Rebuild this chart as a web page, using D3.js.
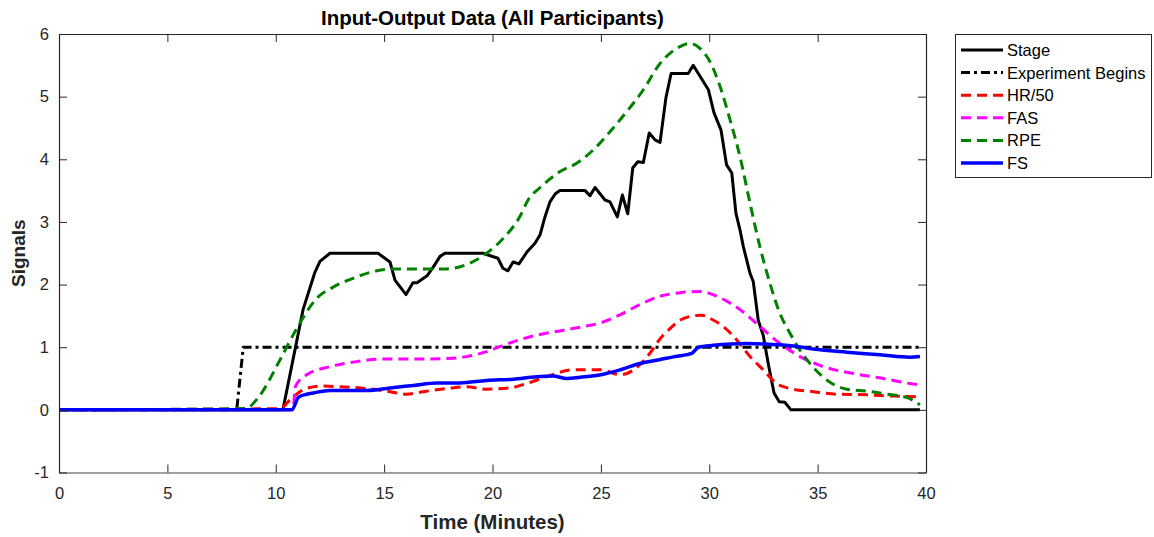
<!DOCTYPE html>
<html>
<head>
<meta charset="utf-8">
<script src="https://cdn.jsdelivr.net/npm/d3@7"></script>
<style>
  html, body { margin: 0; padding: 0; background: #fff; }
  svg { display: block; font-family: "Liberation Sans", Arial, Helvetica, sans-serif; }
</style>
</head>
<body>
<svg id="chart" width="1154" height="537"></svg>
<script>
// Time axis (minutes) and signal values for each series
const stageT = [0, 10.33, 11.26, 11.81, 12.04, 12.5, 14.72, 15.27, 15.5, 16.01, 16.33, 16.52, 16.98, 17.25, 17.58, 17.81,
  19.56, 20.25, 20.48, 20.71, 20.95, 21.22, 21.59, 21.96, 22.19, 22.42, 22.65, 22.9, 23.11, 24.27, 24.5, 24.73, 25.19,
  25.42, 25.76, 25.99, 26.24, 26.47, 26.7, 26.96, 27.23, 27.5, 27.73, 28.0, 28.24, 29.03, 29.26, 29.96, 30.22, 30.54,
  30.8, 31.04, 31.23, 31.42, 31.57, 31.88, 32.03, 32.26, 32.49, 32.72, 32.99, 33.23, 33.49, 33.77, 39.72];
const stageV = [0, 0, 1.6, 2.2, 2.37, 2.5, 2.5, 2.36, 2.07, 1.84, 2.03, 2.03, 2.14, 2.27, 2.45, 2.5,
  2.5, 2.42, 2.26, 2.22, 2.36, 2.33, 2.52, 2.66, 2.79, 3.08, 3.32, 3.45, 3.5, 3.5, 3.42, 3.55, 3.35,
  3.32, 3.08, 3.43, 3.13, 3.86, 3.96, 3.95, 4.42, 4.31, 4.27, 4.98, 5.37, 5.37, 5.5, 5.11, 4.74, 4.47,
  3.91, 3.78, 3.14, 2.87, 2.61, 2.18, 2.05, 1.43, 1.19, 0.74, 0.27, 0.13, 0.12, 0, 0];

const beginT = [0, 8.2, 8.5, 39.72];
const beginV = [0, 0, 1, 1];

const hrT = [0, 10.2, 10.66, 11.27, 12.04, 12.96, 14.2, 15.27, 16.04, 16.8, 17.9, 18.8, 19.73, 20.8, 21.58, 22.5,
  23.73, 25.0, 25.9, 26.8, 27.3, 27.7, 28.2, 28.65, 29.1, 29.65, 30.2, 30.65, 31.26, 31.88, 32.49, 33.1, 33.73,
  34.8, 35.88, 37.26, 38.5, 39.72];
const hrV = [0, 0.02, 0.16, 0.32, 0.38, 0.37, 0.34, 0.29, 0.25, 0.29, 0.34, 0.37, 0.33, 0.35, 0.42, 0.53,
  0.64, 0.64, 0.56, 0.72, 0.92, 1.12, 1.3, 1.43, 1.49, 1.51, 1.43, 1.33, 1.12, 0.85, 0.64, 0.42, 0.34,
  0.29, 0.25, 0.24, 0.22, 0.21];

const fasT = [0, 10.8, 10.9, 11.43, 12.5, 13.73, 14.8, 16.35, 17.9, 18.8, 19.73, 20.65, 21.88, 23.1, 24.04, 25.0,
  25.9, 26.8, 27.7, 28.65, 29.57, 30.5, 31.42, 32.34, 33.26, 34.19, 35.26, 36.65, 38.2, 39.26, 39.72];
const fasV = [0, 0, 0.37, 0.56, 0.69, 0.77, 0.81, 0.81, 0.82, 0.85, 0.93, 1.05, 1.18, 1.26, 1.32, 1.39,
  1.52, 1.68, 1.81, 1.87, 1.89, 1.79, 1.6, 1.33, 1.06, 0.85, 0.69, 0.58, 0.49, 0.42, 0.4];

const rpeT = [0, 8.6, 9.2, 10.2, 10.97, 11.89, 12.65, 13.56, 14.66, 15.58, 16.8, 17.9, 18.8, 19.73, 20.5, 21.27,
  21.64, 22.2, 23.1, 23.9, 24.65, 25.42, 26.19, 26.96, 27.73, 28.5, 29.1, 29.57, 30.03, 30.5, 30.96, 31.42,
  31.88, 32.34, 32.8, 33.26, 33.73, 34.19, 34.8, 35.57, 36.34, 37.26, 38.2, 39.1, 39.72];
const rpeV = [0, 0.02, 0.2, 0.8, 1.3, 1.78, 1.96, 2.1, 2.22, 2.25, 2.25, 2.25, 2.32, 2.5, 2.74, 3.09,
  3.35, 3.55, 3.8, 3.94, 4.15, 4.44, 4.76, 5.11, 5.53, 5.77, 5.85, 5.77, 5.56, 5.16, 4.63, 4.04,
  3.3, 2.6, 2.02, 1.54, 1.22, 0.95, 0.68, 0.44, 0.33, 0.3, 0.25, 0.2, 0.08];

const fsT = [0, 10.75, 11.04, 11.43, 11.73, 12.5, 14.2, 15.27, 16.35, 17.43, 18.5, 19.73, 20.96, 22.04, 22.8, 23.42,
  24.04, 25.0, 25.9, 26.8, 27.7, 28.4, 29.19, 29.5, 30.19, 31.72, 32.65, 33.88, 34.8, 36.34, 37.88, 39.26, 39.72];
const fsV = [0, 0, 0.2, 0.25, 0.27, 0.31, 0.31, 0.35, 0.39, 0.43, 0.43, 0.47, 0.49, 0.53, 0.54, 0.5,
  0.52, 0.56, 0.64, 0.74, 0.8, 0.85, 0.9, 1.0, 1.03, 1.06, 1.05, 1.02, 0.97, 0.92, 0.88, 0.84, 0.85];

const seriesNames = ["Stage", "Experiment Begins", "HR/50", "FAS", "RPE", "FS"];
const xTicks = [0, 5, 10, 15, 20, 25, 30, 35, 40];
const yTicks = [-1, 0, 1, 2, 3, 4, 5, 6];

const series = [
  { name: seriesNames[0], t: stageT, v: stageV, color: "#000000", width: 3, dash: null, curve: d3.curveLinear },
  { name: seriesNames[1], t: beginT, v: beginV, color: "#000000", width: 3, dash: "9,4,3,4", curve: d3.curveLinear },
  { name: seriesNames[2], t: hrT, v: hrV, color: "#ff0000", width: 3, dash: "10,6", curve: d3.curveMonotoneX },
  { name: seriesNames[3], t: fasT, v: fasV, color: "#ff00ff", width: 3, dash: "10,6", curve: d3.curveMonotoneX },
  { name: seriesNames[4], t: rpeT, v: rpeV, color: "#008000", width: 3, dash: "10,6", curve: d3.curveMonotoneX },
  { name: seriesNames[5], t: fsT, v: fsV, color: "#0000ff", width: 3.5, dash: null, curve: d3.curveMonotoneX }
];

const svg = d3.select("#chart");
const plot = { left: 59, right: 926, top: 34, bottom: 472.5 };

const x = d3.scaleLinear().domain([0, 40]).range([plot.left, plot.right]);
const y = d3.scaleLinear().domain([-1, 6]).range([plot.bottom, plot.top]);

const axisColor = "#262626";
const tickLen = 8;

// Clip region for the data lines
svg.append("defs").append("clipPath").attr("id", "plot-clip")
  .append("rect")
  .attr("x", plot.left).attr("y", plot.top)
  .attr("width", plot.right - plot.left).attr("height", plot.bottom - plot.top);

// Data lines
const lines = svg.append("g").attr("clip-path", "url(#plot-clip)");
series.forEach(s => {
  const pts = s.t.map((t, i) => [t, s.v[i]]);
  const gen = d3.line().x(d => x(d[0])).y(d => y(d[1])).curve(s.curve);
  lines.append("path")
    .attr("d", gen(pts))
    .attr("fill", "none")
    .attr("stroke", s.color)
    .attr("stroke-width", s.width)
    .attr("stroke-linejoin", "round")
    .attr("stroke-dasharray", s.dash);
});

// Axes with inward ticks on all four sides (boxed axes); plain hyphen for negatives
const fmt = d => String(d);
const bottomAxis = d3.axisBottom(x).tickValues(xTicks).tickSizeInner(-tickLen).tickSizeOuter(0).tickPadding(15).tickFormat(fmt);
const topAxis = d3.axisTop(x).tickValues(xTicks).tickSizeInner(-tickLen).tickSizeOuter(0).tickFormat("");
const leftAxis = d3.axisLeft(y).tickValues(yTicks).tickSizeInner(-tickLen).tickSizeOuter(0).tickPadding(10).tickFormat(fmt);
const rightAxis = d3.axisRight(y).tickValues(yTicks).tickSizeInner(-tickLen).tickSizeOuter(0).tickFormat("");

function styleAxis(g) {
  g.select(".domain").attr("stroke", axisColor).attr("stroke-width", 1.2);
  g.selectAll(".tick line").attr("stroke", axisColor).attr("stroke-width", 1);
  g.selectAll(".tick text")
    .attr("fill", "#262626")
    .style("font-size", "16.5px")
    .style("font-family", "'Liberation Sans', Arial, sans-serif");
}

svg.append("g").attr("transform", `translate(0,${plot.bottom})`).call(bottomAxis).call(styleAxis)
  .select(".domain").attr("stroke", "#808080").attr("stroke-width", 1.6);
svg.append("g").attr("transform", `translate(0,${plot.top})`).call(topAxis).call(styleAxis);
svg.append("g").attr("transform", `translate(${plot.left},0)`).call(leftAxis).call(styleAxis);
svg.append("g").attr("transform", `translate(${plot.right},0)`).call(rightAxis).call(styleAxis);

// Title and axis labels
svg.append("text")
  .attr("x", (plot.left + plot.right) / 2).attr("y", 24.5)
  .attr("text-anchor", "middle")
  .style("font-size", "20.5px").style("font-weight", "bold").attr("fill", "#000")
  .text("Input-Output Data (All Participants)");

svg.append("text")
  .attr("x", (plot.left + plot.right) / 2).attr("y", 529)
  .attr("text-anchor", "middle")
  .style("font-size", "20.5px").style("font-weight", "bold").attr("fill", "#262626")
  .text("Time (Minutes)");

svg.append("text")
  .attr("transform", `translate(25,${(plot.top + plot.bottom) / 2}) rotate(-90)`)
  .attr("text-anchor", "middle")
  .style("font-size", "19px").style("font-weight", "bold").attr("fill", "#262626")
  .text("Signals");

// Legend
const legend = { x: 955.5, y: 34.5, w: 196, h: 143 };
const lg = svg.append("g");
lg.append("rect")
  .attr("x", legend.x).attr("y", legend.y).attr("width", legend.w).attr("height", legend.h)
  .attr("fill", "#fff").attr("stroke", axisColor).attr("stroke-width", 1);

const rowStep = 22.6;
series.forEach((s, i) => {
  const cy = 50 + i * rowStep;
  lg.append("line")
    .attr("x1", 961).attr("x2", 1003).attr("y1", cy).attr("y2", cy)
    .attr("stroke", s.color).attr("stroke-width", s.width)
    .attr("stroke-dasharray", s.dash);
  lg.append("text")
    .attr("x", 1007).attr("y", cy + 6)
    .style("font-size", "16.5px").attr("fill", "#000")
    .text(s.name);
});
</script>
</body>
</html>
